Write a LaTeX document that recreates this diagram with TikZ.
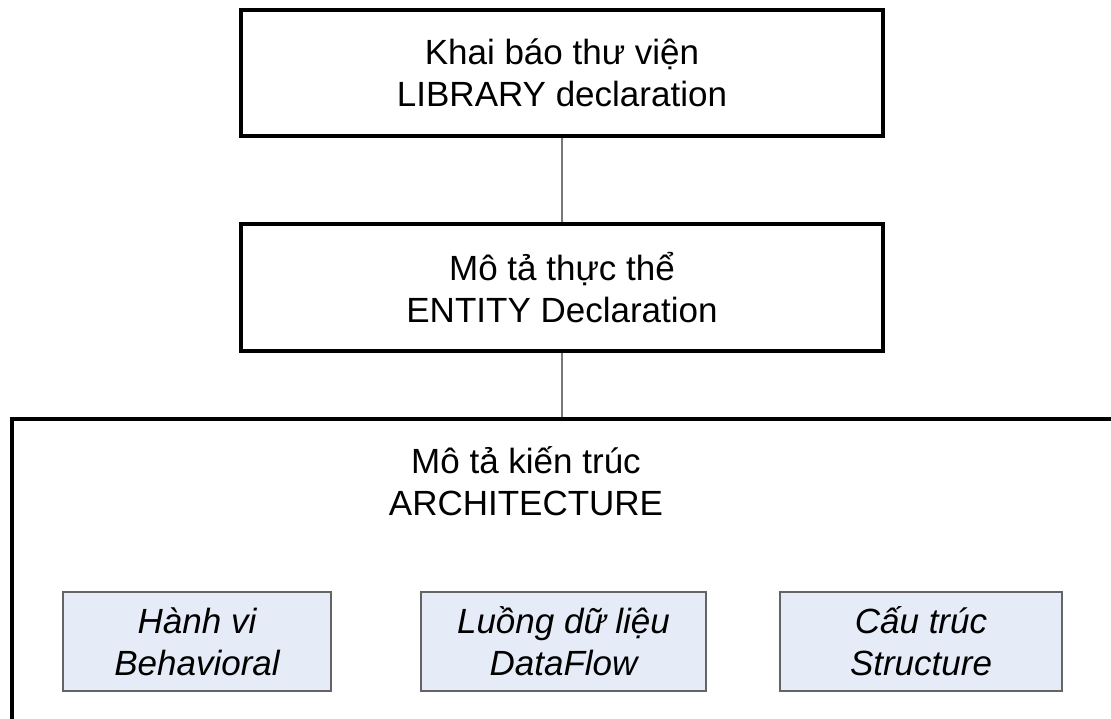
\documentclass[tikz,border=0pt]{standalone}
\usepackage{fontspec}
\setmainfont{Liberation Sans}
\definecolor{subfill}{RGB}{230,236,247}
\definecolor{subline}{RGB}{100,100,100}
\definecolor{connline}{RGB}{120,120,120}
\begin{document}
\begin{tikzpicture}[x=1pt,y=-1pt,
  txt/.style={font=\fontsize{35}{42}\selectfont, align=center, inner sep=0pt},
  mainbox/.style={draw=black, line width=4pt, fill=white, minimum width=642pt, minimum height=126pt, txt},
  subbox/.style={draw=subline, line width=1.3pt, fill=subfill, minimum height=99pt, txt, font=\fontsize{35}{42}\selectfont\itshape},
  conn/.style={draw=connline, line width=1.2pt}]
\useasboundingbox (0,0) rectangle (1111,719);
\begin{scope}
\clip (0,0) rectangle (1111,719);
\node[draw=black, line width=4pt, minimum width=1130pt, minimum height=360pt, anchor=north west, inner sep=0pt] (arch) at (10,417) {};
\end{scope}
\node[mainbox] (lib) at (562,73) {Khai báo thư viện\\LIBRARY declaration};
\node[mainbox] (ent) at (562,287.5) {Mô tả thực thể\\ENTITY Declaration};
\node[txt] (archtitle) at (526,481) {Mô tả kiến trúc\\ARCHITECTURE};
\node[subbox, minimum width=268pt] (beh) at (197,641.5) {Hành vi\\Behavioral};
\node[subbox, minimum width=285pt] (df) at (563.5,641.5) {Luồng dữ liệu\\DataFlow};
\node[subbox, minimum width=282pt] (st) at (921,641.5) {Cấu trúc\\Structure};
\draw[conn] (lib.south) -- (ent.north);
\draw[conn] (ent.south) -- (ent.south |- arch.north);
\end{tikzpicture}
\end{document}
